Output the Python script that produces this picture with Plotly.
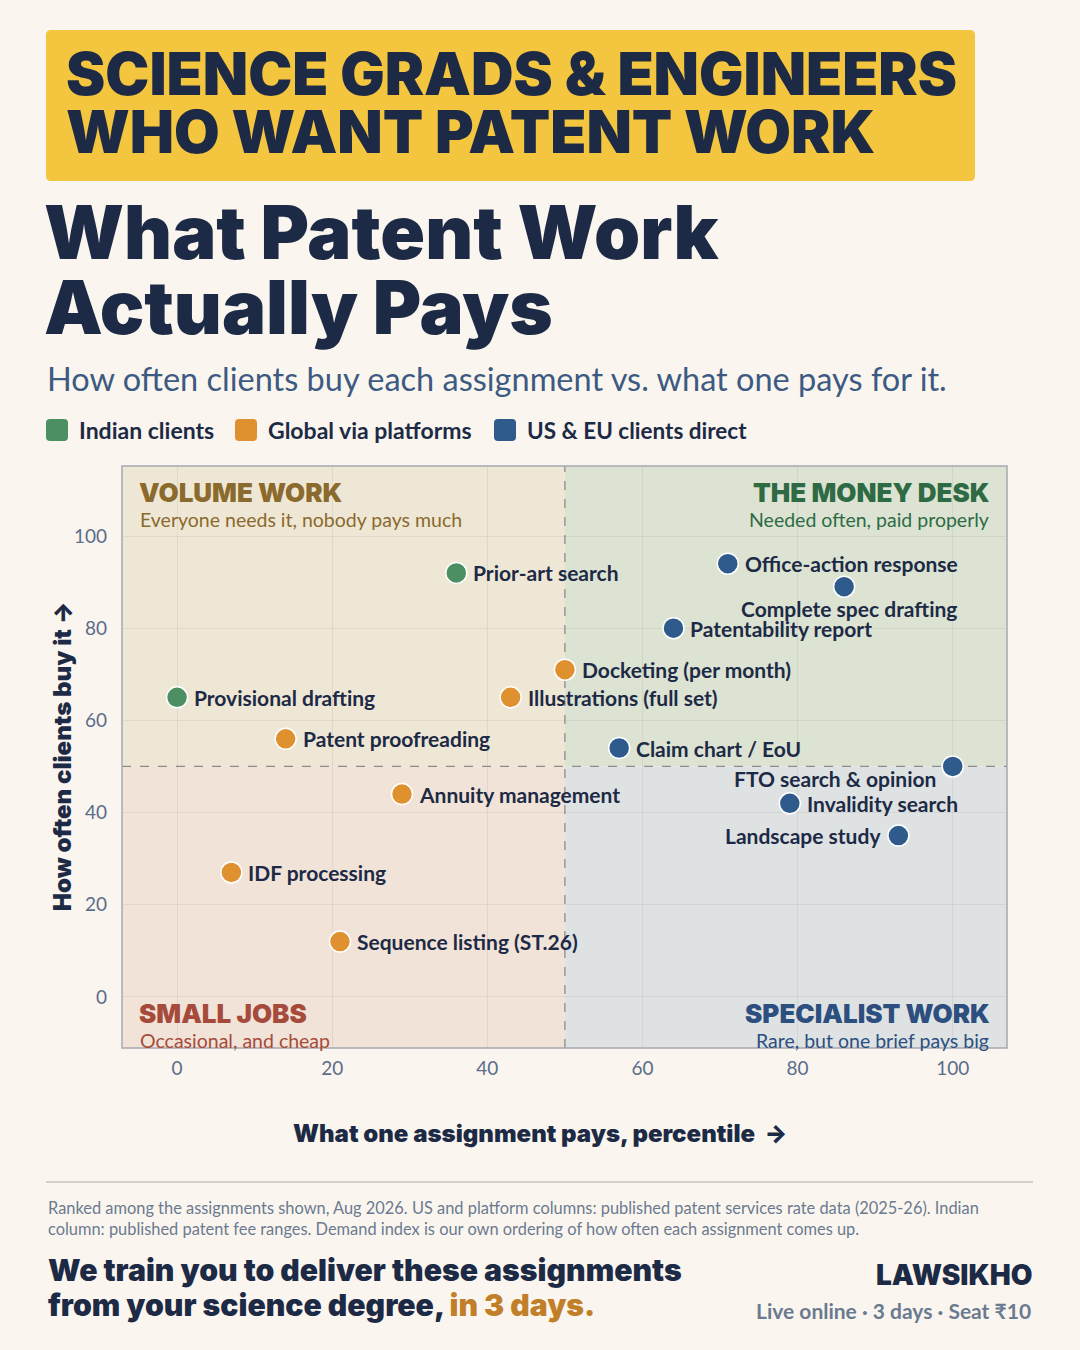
import plotly.graph_objects as go

# ---------------- data ----------------
indian_names = ["Prior-art search", "Provisional drafting"]
indian_pay = [36, 0]
indian_demand = [92, 65]
indian_pos = ["r", "r"]

global_names = ["Patent proofreading", "Illustrations (full set)", "Docketing (per month)",
                "Annuity management", "IDF processing", "Sequence listing (ST.26)"]
global_pay = [14, 43, 50, 29, 7, 21]
global_demand = [56, 65, 71, 44, 27, 12]
global_pos = ["r"] * 6

useu_names = ["Office-action response", "Complete spec drafting", "Patentability report",
              "Claim chart / EoU", "FTO search & opinion", "Invalidity search", "Landscape study"]
useu_pay = [71, 86, 64, 57, 100, 79, 93]
useu_demand = [94, 89, 80, 54, 50, 42, 35]
useu_pos = ["r", "b", "r", "r", "bl", "r", "l"]

tick_vals = [0, 20, 40, 60, 80, 100]
x_range = [-7.1, 107]
y_range = [-11.1, 115.2]
split_x = 50
split_y = 50

# ---------------- style ----------------
BG = "#faf6ef"
NAVY = "#1d2a45"
GREEN = "#4b8f62"
ORANGE = "#e0912f"
BLUE = "#2e5b8c"
SUB = "#3d5a82"
GREY = "#6b7a90"
FONT = "Lato"
HEAVY = "Inter"

L, R, T, B = 122, 1007, 466, 1048
W, H = 1080, 1350


def PX(x):
    return (x - L) / (R - L)


def PY(y):
    return (B - y) / (B - T)


def rrect(x0, y0, x1, y1, r):
    a, b, c, d = PX(x0), PX(x1), PY(y1), PY(y0)
    rx = r / (R - L)
    ry = r / (B - T)
    return (f"M {a+rx},{d} L {b-rx},{d} Q {b},{d} {b},{d-ry} L {b},{c+ry} Q {b},{c} {b-rx},{c} "
            f"L {a+rx},{c} Q {a},{c} {a},{c+ry} L {a},{d-ry} Q {a},{d} {a+rx},{d} Z")


fig = go.Figure()
ann = []

# label placement rules: (xanchor, xshift, yshift)
PLACE = {"r": ("left", 15, 0), "l": ("right", -15, 0), "b": ("center", 5, -22), "bl": ("right", -15, -12)}

for names, xs, ys, pos, col in [
    (indian_names, indian_pay, indian_demand, indian_pos, GREEN),
    (global_names, global_pay, global_demand, global_pos, ORANGE),
    (useu_names, useu_pay, useu_demand, useu_pos, BLUE),
]:
    fig.add_trace(go.Scatter(
        x=xs, y=ys, mode="markers",
        marker=dict(size=21, color=col, line=dict(color="white", width=1.5)),
        showlegend=False, cliponaxis=False, hoverinfo="skip"))
    for n, x, y, p in zip(names, xs, ys, pos):
        xa, xs_, ys_ = PLACE[p]
        ann.append(dict(xref="x", yref="y", x=x, y=y, text=n.replace("&", "&amp;"), showarrow=False,
                        xanchor=xa, yanchor="middle", xshift=xs_, yshift=ys_,
                        font=dict(family=FONT, size=21, color=NAVY, weight=700)))

shapes = []
quads = [
    (x_range[0], split_x, split_y, y_range[1], "#efe7d6"),
    (split_x, x_range[1], split_y, y_range[1], "#dce3d3"),
    (x_range[0], split_x, y_range[0], split_y, "#f1e3d8"),
    (split_x, x_range[1], y_range[0], split_y, "#dfe2e3"),
]
for x0, x1, y0, y1, c in quads:
    shapes.append(dict(type="rect", xref="x", yref="y", x0=x0, x1=x1, y0=y0, y1=y1,
                       fillcolor=c, line=dict(width=0), layer="below"))
shapes.append(dict(type="line", xref="x", yref="y", x0=split_x, x1=split_x, y0=y_range[0], y1=y_range[1],
                   line=dict(color="#8c8c8c", width=1.3, dash="dash"), layer="between"))
shapes.append(dict(type="line", xref="x", yref="y", x0=x_range[0], x1=x_range[1], y0=split_y, y1=split_y,
                   line=dict(color="#8c8c8c", width=1.3, dash="dash"), layer="between"))
shapes.append(dict(type="rect", xref="paper", yref="paper", x0=0, x1=1, y0=0, y1=1,
                   line=dict(color="#a5a9b1", width=1.5), layer="above"))
shapes.append(dict(type="path", xref="paper", yref="paper", path=rrect(46, 30, 975, 181, 5),
                   fillcolor="#f4c53e", line=dict(width=0)))
for x0, c in [(46, GREEN), (235, ORANGE), (494, BLUE)]:
    shapes.append(dict(type="path", xref="paper", yref="paper", path=rrect(x0, 419, x0 + 22, 441, 4),
                       fillcolor=c, line=dict(width=0)))
shapes.append(dict(type="line", xref="paper", yref="paper", x0=PX(46), x1=PX(1033), y0=PY(1182), y1=PY(1182),
                   line=dict(color="#d6d2ca", width=2)))


def text(x, y, s, size, color=NAVY, weight=400, xanchor="left", yanchor="middle", angle=0, family=FONT):
    ann.append(dict(xref="paper", yref="paper", x=PX(x), y=PY(y), text=s, showarrow=False,
                    xanchor=xanchor, yanchor=yanchor, textangle=angle,
                    font=dict(family=family, size=size, color=color, weight=weight)))


text(64, 73, "SCIENCE GRADS &amp; ENGINEERS", 59, weight=900, family=HEAVY)
text(64, 131, "WHO WANT PATENT WORK", 59, weight=900, family=HEAVY)
text(42, 232, "What Patent Work", 74, weight=900, family=HEAVY)
text(42, 307, "Actually Pays", 74, weight=900, family=HEAVY)
text(45, 378, "How often clients buy each assignment vs. what one pays for it.", 32.5, color=SUB)
text(77, 430, "Indian clients", 23, weight=700)
text(266, 430, "Global via platforms", 23, weight=700)
text(525, 430, "US &amp; EU clients direct", 22.5, weight=700)

text(137, 492, "VOLUME WORK", 26, color="#8b6a2d", weight=900, family=HEAVY)
text(138, 519, "Everyone needs it, nobody pays much", 19.5, color="#8b6a2d")
text(992, 492, "THE MONEY DESK", 26, color="#2e6b45", weight=900, xanchor="right", family=HEAVY)
text(991, 519, "Needed often, paid properly", 19.5, color="#2e6b45", xanchor="right")
text(137, 1013, "SMALL JOBS", 26, color="#a64b3b", weight=900, family=HEAVY)
text(138, 1040, "Occasional, and cheap", 19.5, color="#a64b3b")
text(992, 1013, "SPECIALIST WORK", 26, color="#2c4f80", weight=900, xanchor="right", family=HEAVY)
text(991, 1040, "Rare, but one brief pays big", 19.5, color="#2c4f80", xanchor="right")

text(540, 1133, "What one assignment pays, percentile  →", 24, weight=900, xanchor="center", family=HEAVY)
text(62, 756, "How often clients buy it →", 24, weight=900, xanchor="center", angle=-90, family=HEAVY)

text(46, 1207, "Ranked among the assignments shown, Aug 2026. US and platform columns: published patent services rate data (2025-26). Indian", 16.4, color=GREY)
text(46, 1228, "column: published patent fee ranges. Demand index is our own ordering of how often each assignment comes up.", 16.4, color=GREY)
text(46, 1270, "We train you to deliver these assignments", 30.2, weight=900, family=HEAVY)
text(46, 1305, "from your science degree, <span style='color:#c27f2a'>in 3 days.</span>", 30.2, weight=900, family=HEAVY)
text(1034, 1275, "LAWSIKHO", 28, weight=900, xanchor="right", family=HEAVY)
text(1033, 1310, "Live online · 3 days · Seat ₹10", 21, color=GREY, weight=700, xanchor="right")

fig.update_layout(
    width=W, height=H,
    margin=dict(l=L, r=W - R, t=T, b=H - B),
    paper_bgcolor=BG, plot_bgcolor=BG,
    shapes=shapes, annotations=ann,
    font=dict(family=FONT, color=NAVY),
    xaxis=dict(range=x_range, tickvals=tick_vals, showgrid=True, gridcolor="rgba(120,120,120,0.13)",
               zeroline=False, showline=False, ticks="", ticklabelstandoff=7,
               tickfont=dict(family=FONT, size=19, color="#5b6d8a")),
    yaxis=dict(range=y_range, tickvals=tick_vals, showgrid=True, gridcolor="rgba(120,120,120,0.13)",
               zeroline=False, showline=False, ticks="", ticklabelstandoff=14,
               tickfont=dict(family=FONT, size=19, color="#5b6d8a")),
)

fig.write_html("out.html", config={"displayModeBar": False},
               post_script="document.body.style.margin='0';")
